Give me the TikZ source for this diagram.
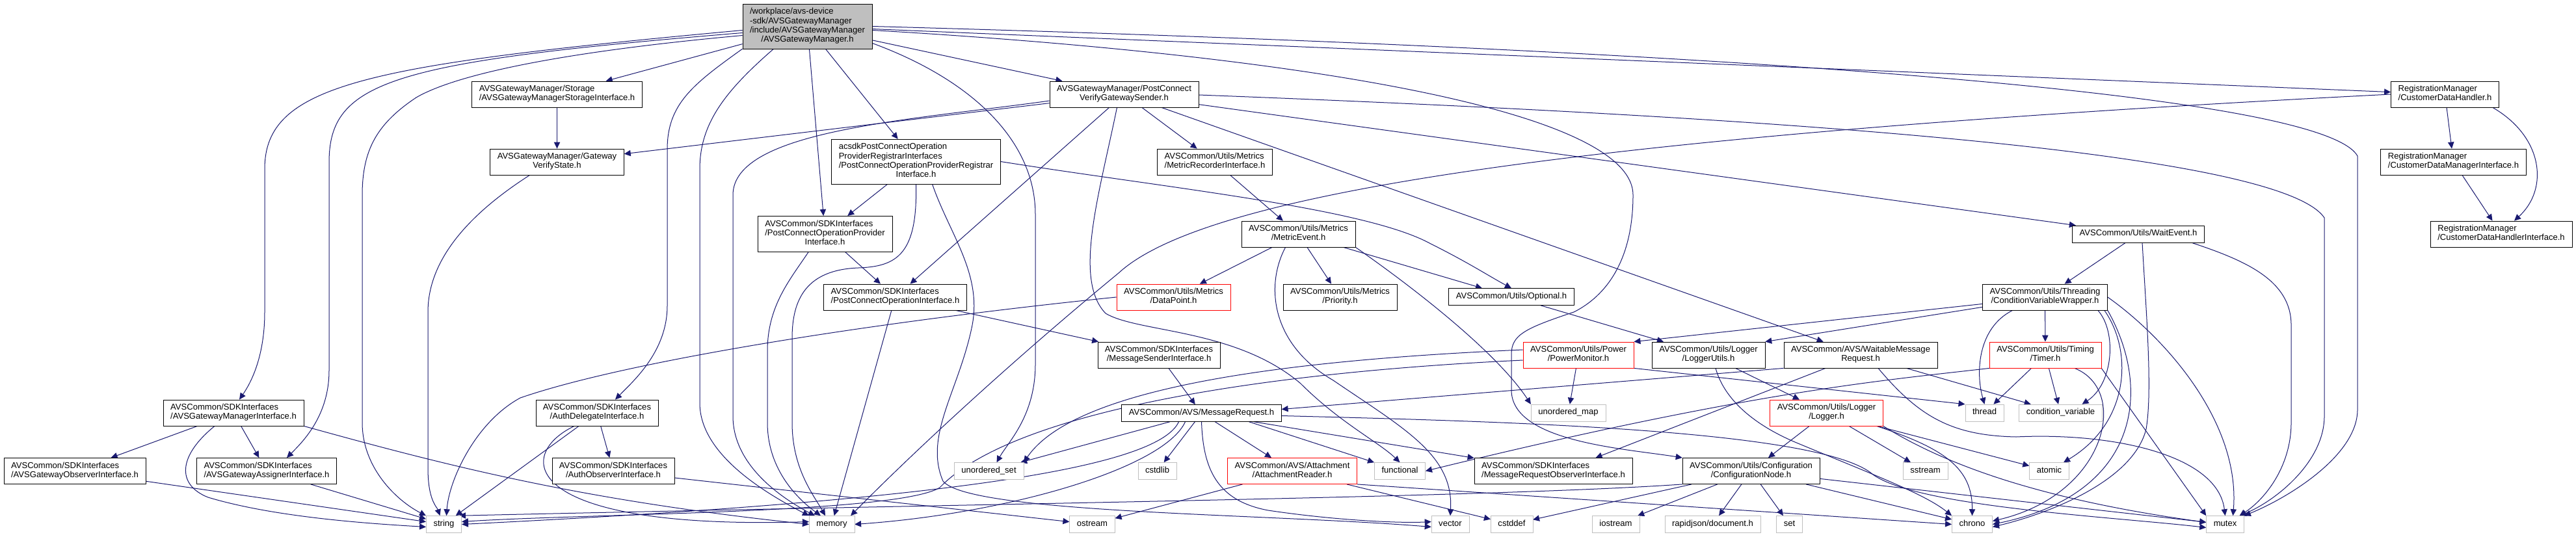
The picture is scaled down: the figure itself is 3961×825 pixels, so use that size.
\documentclass[tikz,border=0pt]{standalone}
\usepackage{fontspec}
\setmainfont{Liberation Sans}
\usetikzlibrary{arrows.meta,calc,backgrounds}
\definecolor{edgeblue}{HTML}{191970}
\definecolor{sysgray}{HTML}{BFBFBF}
% label: all lines left-aligned except the last one, which is centred
\newcommand\twoline[2]{\begin{tabular}{@{}l@{}}#1\\\multicolumn{1}{@{}c@{}}{#2}\end{tabular}}

\begin{document}
\begin{tikzpicture}[x=0.75pt, y=-0.75pt,
  every node/.style={font=\fontsize{9.8}{10.7}\selectfont},
  hdr/.style={draw=black, fill=white, inner xsep=8.4pt, inner ysep=4.4pt},
  trunc/.style={hdr, draw=red},
  top/.style={hdr, fill=sysgray},
  one/.style={text height=7.49pt, text depth=3.21pt},
  sys/.style={hdr, one, draw=sysgray},
  arr/.style={-{Triangle[length=7.5pt,width=7pt]}, line width=0.75pt, color=edgeblue},
]
% ---- row 1: the header itself ----
\node[top] (root) at (1241.5,40.5) {\twoline{/workplace/avs-device\\-sdk/AVSGatewayManager\\/include/AVSGatewayManager}{/AVSGatewayManager.h}};
% ---- row 2 ----
\node[hdr] (store) at (856.5,145) {\twoline{AVSGatewayManager/Storage}{/AVSGatewayManagerStorageInterface.h}};
\node[hdr] (sender) at (1728.5,145) {\twoline{AVSGatewayManager/PostConnect}{VerifyGatewaySender.h}};
\node[hdr] (custhandler) at (3759.5,145) {\twoline{RegistrationManager}{/CustomerDataHandler.h}};
% ---- row 3 ----
\node[hdr] (gwstate) at (856.5,249) {\twoline{AVSGatewayManager/Gateway}{VerifyState.h}};
\node[hdr] (registrar) at (1408.5,248.5) {\twoline{acsdkPostConnectOperation\\ProviderRegistrarInterfaces\\/PostConnectOperationProviderRegistrar}{Interface.h}};
\node[hdr] (metricrec) at (1868,249) {\twoline{AVSCommon/Utils/Metrics}{/MetricRecorderInterface.h}};
\node[hdr] (custmgr) at (3772.5,249) {\twoline{RegistrationManager}{/CustomerDataManagerInterface.h}};
% ---- row 4 ----
\node[hdr] (provider) at (1268.5,359.5) {\twoline{AVSCommon/SDKInterfaces\\/PostConnectOperationProvider}{Interface.h}};
\node[hdr] (metricevent) at (1996.5,360) {\twoline{AVSCommon/Utils/Metrics}{/MetricEvent.h}};
\node[hdr, one] (waitevent) at (3288,360) {AVSCommon/Utils/WaitEvent.h};
\node[hdr] (custhandlerif) at (3846,360) {\twoline{RegistrationManager}{/CustomerDataHandlerInterface.h}};
% ---- row 5 ----
\node[hdr] (postop) at (1376.5,457) {\twoline{AVSCommon/SDKInterfaces}{/PostConnectOperationInterface.h}};
\node[trunc] (datapoint) at (1804.5,457) {\twoline{AVSCommon/Utils/Metrics}{/DataPoint.h}};
\node[hdr] (priority) at (2060.5,457) {\twoline{AVSCommon/Utils/Metrics}{/Priority.h}};
\node[hdr, one] (optional) at (2324,456.5) {AVSCommon/Utils/Optional.h};
\node[hdr] (cvwrap) at (3144.5,457) {\twoline{AVSCommon/Utils/Threading}{/ConditionVariableWrapper.h}};
% ---- row 6 ----
\node[hdr] (msgsender) at (1782,546) {\twoline{AVSCommon/SDKInterfaces}{/MessageSenderInterface.h}};
\node[trunc] (powermon) at (2427,546) {\twoline{AVSCommon/Utils/Power}{/PowerMonitor.h}};
\node[hdr] (logutils) at (2627,546) {\twoline{AVSCommon/Utils/Logger}{/LoggerUtils.h}};
\node[hdr] (waitreq) at (2861,546) {\twoline{AVSCommon/AVS/WaitableMessage}{Request.h}};
\node[trunc] (timer) at (3145,546) {\twoline{AVSCommon/Utils/Timing}{/Timer.h}};
% ---- row 7 ----
\node[hdr] (gwmgrif) at (359,635) {\twoline{AVSCommon/SDKInterfaces}{/AVSGatewayManagerInterface.h}};
\node[hdr] (authdel) at (918,635) {\twoline{AVSCommon/SDKInterfaces}{/AuthDelegateInterface.h}};
\node[hdr, one] (msgreq) at (1847.5,635.5) {AVSCommon/AVS/MessageRequest.h};
\node[sys] (umap) at (2411.5,635) {unordered\_map};
\node[trunc] (logger) at (2808.5,635) {\twoline{AVSCommon/Utils/Logger}{/Logger.h}};
\node[sys] (thread) at (3051.5,635) {thread};
\node[sys] (condvar) at (3168.5,635) {condition\_variable};
% ---- row 8 ----
\node[hdr] (gwobs) at (115,724.5) {\twoline{AVSCommon/SDKInterfaces}{/AVSGatewayObserverInterface.h}};
\node[hdr] (gwassign) at (410,724.5) {\twoline{AVSCommon/SDKInterfaces}{/AVSGatewayAssignerInterface.h}};
\node[hdr] (authobs) at (943,724.5) {\twoline{AVSCommon/SDKInterfaces}{/AuthObserverInterface.h}};
\node[sys] (uset) at (1520.5,724.5) {unordered\_set};
\node[sys] (cstdlib) at (1779.5,724.5) {cstdlib};
\node[trunc] (attach) at (1987,724.5) {\twoline{AVSCommon/AVS/Attachment}{/AttachmentReader.h}};
\node[sys] (functional) at (2152.5,724.5) {functional};
\node[hdr] (reqobs) at (2388.5,724.5) {\twoline{AVSCommon/SDKInterfaces}{/MessageRequestObserverInterface.h}};
\node[hdr] (confnode) at (2692.5,724.5) {\twoline{AVSCommon/Utils/Configuration}{/ConfigurationNode.h}};
\node[sys] (sstream) at (2960.5,724.5) {sstream};
\node[sys] (atomic) at (3151,724.5) {atomic};
% ---- row 9: system headers ----
\node[sys] (str) at (682.5,806.5) {string};
\node[sys] (mem) at (1279,806.5) {memory};
\node[sys] (ostream) at (1679.5,806.5) {ostream};
\node[sys] (vector) at (2230,806.5) {vector};
\node[sys] (cstddef) at (2324.5,806.5) {cstddef};
\node[sys] (iostream) at (2484.5,806.5) {iostream};
\node[sys] (rapidjson) at (2633.5,806.5) {rapidjson/document.h};
\node[sys] (set) at (2751.5,806.5) {set};
\node[sys] (chrono) at (3032.5,806.5) {chrono};
\node[sys] (mutex) at (3421.5,806.5) {mutex};

\begin{scope}[on background layer]
\path[use as bounding box, fill=white] (0,0) rectangle (3961,825);
% ---- includes of the main header ----
\draw[arr] (root) -- (store);
\draw[arr] (root) -- (sender);
\draw[arr] (root) -- (registrar);
\draw[arr] (root) -- (provider);
\draw[arr] (root) -- (custhandler);
\draw[arr] ($(root.west)+(0,6)$) .. controls (560,100) and (407,130) .. (407,260) -- (407,480) .. controls (407,550) and (385,590) .. ($(gwmgrif.north)+(9,0)$);
\draw[arr] ($(root.west)+(0,10)$) .. controls (600,95) and (506,125) .. (506,250) -- (506,570) .. controls (506,640) and (465,680) .. ($(gwassign.north)+(31,0)$);
\draw[arr] ($(root.west)+(0,14)$) .. controls (860,80) and (700,115) .. (640,150) .. controls (580,190) and (557,230) .. (557,300) -- (557,650) .. controls (557,720) and (610,770) .. (str.north west);
\draw[arr] (root.south west) .. controls (1065,130) and (1026,160) .. (1026,230) -- (1026,470) .. controls (1026,540) and (975,585) .. ($(authdel.north)+(28,0)$);
\draw[arr] ($(root.south west)+(48,0)$) .. controls (1115,140) and (1076,190) .. (1076,260) -- (1076,620) .. controls (1076,700) and (1180,760) .. (mem.north west);
\draw[arr] ($(root.east)+(0,26)$) .. controls (1500,125) and (1592,220) .. (1592,330) -- (1592,560) .. controls (1592,640) and (1550,680) .. ($(uset.north)+(12,0)$);
\draw[arr] ($(root.east)+(0,6)$) .. controls (2000,85) and (2511,170) .. (2511,300) .. controls (2511,400) and (2470,455) .. (2420,480) .. controls (2345,505) and (2324,515) .. (2324,545) -- (2324,600) .. controls (2324,680) and (2500,690) .. (confnode.north west);
\draw[arr] (root.east) .. controls (2600,75) and (3570,140) .. (3625,240) -- (3625,630) .. controls (3625,700) and (3520,765) .. (mutex.north east);
% ---- storage and gateway state ----
\draw[arr] (store) -- (gwstate);
\draw[arr] ($(gwstate.south)+(-42,0)$) .. controls (720,330) and (658,400) .. (658,480) -- (658,720) .. controls (658,770) and (672,780) .. ($(str.north)+(-6,0)$);
% ---- verify gateway sender ----
\draw[arr] (sender) -- (gwstate);
\draw[arr] ($(sender.west)+(0,10)$) .. controls (1400,185) and (1127,200) .. (1127,300) -- (1127,640) .. controls (1127,715) and (1200,765) .. ($(mem.north west)+(9,0)$);
\draw[arr] (sender) -- (postop);
\draw[arr] ($(sender.south)+(-11,0)$) .. controls (1690,300) and (1650,430) .. (1700,482) .. controls (1750,512) and (1900,505) .. (2000,590) .. controls (2060,650) and (2120,680) .. (functional.north);
\draw[arr] (sender) -- (metricrec);
\draw[arr] (sender) -- (waitreq);
\draw[arr] (sender) -- (waitevent);
\draw[arr] ($(sender.east)+(0,1)$) .. controls (2600,175) and (3500,225) .. (3574,335) -- (3574,640) .. controls (3574,710) and (3500,770) .. ($(mutex.north east)+(-7,0)$);
% ---- provider registrar ----
\draw[arr] (registrar) -- (provider);
\draw[arr] (registrar.south) .. controls (1411,390) and (1380,410) .. (1320,412) .. controls (1240,415) and (1218,460) .. (1218,520) -- (1218,650) .. controls (1218,720) and (1250,760) .. ($(mem.north)+(-10,0)$);
\draw[arr] (registrar.east) .. controls (1800,290) and (2100,320) .. (2200,375) .. controls (2260,405) and (2290,425) .. (optional.north);
\draw[arr] ($(registrar.south)+(25,0)$) .. controls (1460,360) and (1510,420) .. (1495,500) .. controls (1475,600) and (1420,670) .. (1450,740) .. controls (1490,790) and (1950,790) .. ($(vector.west)+(0,4)$);
% ---- provider and operation ----
\draw[arr] (provider) -- (postop);
\draw[arr] ($(provider.south)+(-25,0)$) .. controls (1215,430) and (1180,470) .. (1180,540) -- (1180,650) .. controls (1180,725) and (1230,770) .. ($(mem.north west)+(18,0)$);
\draw[arr] (postop) -- (msgsender);
\draw[arr] (postop) -- (mem);
% ---- message sender and request ----
\draw[arr] (msgsender) -- (msgreq);
\draw[arr] (msgreq) -- (uset);
\draw[arr] ($(msgreq.south)+(-35,0)$) .. controls (1780,720) and (1450,770) .. (str.east);
\draw[arr] ($(msgreq.south)+(-25,0)$) .. controls (1790,720) and (1550,790) .. (mem.east);
\draw[arr] (msgreq) -- (cstdlib);
\draw[arr] (msgreq) -- (attach);
\draw[arr] (msgreq) -- (reqobs);
\draw[arr] ($(msgreq.south east)+(-50,0)$) -- (functional.north west);
\draw[arr] (msgreq.south) .. controls (1850,720) and (1870,770) .. (1950,785) .. controls (2050,800) and (2150,805) .. ($(vector.west)+(0,-4)$);
\draw[arr] ($(msgreq.east)+(0,4)$) .. controls (2300,648) and (2800,660) .. (2880,730) .. controls (2950,780) and (3250,795) .. ($(mutex.west)+(0,5)$);
% ---- attachment reader ----
\draw[arr] (attach) -- (ostream);
\draw[arr] (attach) -- (cstddef);
\draw[arr] (attach.south east) -- (chrono.west);
% ---- metrics ----
\draw[arr] (metricrec) -- (metricevent);
\draw[arr] (metricevent) -- (datapoint);
\draw[arr] (metricevent) -- (priority);
\draw[arr] (metricevent) -- (optional);
\draw[arr] (metricevent.south east) .. controls (2170,440) and (2300,540) .. (umap.north west);
\draw[arr] ($(metricevent.south)+(-20,0)$) .. controls (1945,440) and (1955,530) .. (2050,585) .. controls (2160,660) and (2235,700) .. (vector.north);
\draw[arr] (datapoint.west) .. controls (1300,500) and (950,560) .. (800,612) .. controls (730,650) and (690,740) .. ($(str.north)+(4,0)$);
\draw[arr] (optional) -- (logutils);
% ---- power monitor ----
\draw[arr] (powermon) -- (umap);
\draw[arr] ($(powermon.west)+(0,-8)$) .. controls (1950,555) and (1650,600) .. (uset.north east);
\draw[arr] ($(powermon.west)+(0,8)$) .. controls (1900,575) and (1550,640) .. (1445,750) .. controls (1380,790) and (900,790) .. ($(str.east)+(0,-4)$);
\draw[arr] (powermon.south east) -- (thread.north west);
% ---- logger utils and logger ----
\draw[arr] (logutils) -- (logger);
\draw[arr] ($(logutils.south)+(11,0)$) .. controls (2650,610) and (2690,650) .. (2760,680) .. controls (2880,730) and (2960,760) .. (chrono.north west);
\draw[arr] (logger) -- (confnode);
\draw[arr] (logger) -- (sstream);
\draw[arr] (logger) -- (atomic);
\draw[arr] ($(logger.south east)+(-10,0)$) .. controls (2990,690) and (3033,720) .. (chrono.north);
\draw[arr] (logger.south east) .. controls (3000,720) and (3150,770) .. ($(mutex.west)+(0,-3)$);
% ---- waitable message request ----
\draw[arr] (waitreq.south west) -- ($(msgreq.east)+(0,-6)$);
\draw[arr] ($(waitreq.south)+(-54,0)$) -- ($(reqobs.north)+(65,0)$);
\draw[arr] (waitreq) -- (condvar);
\draw[arr] ($(waitreq.south)+(27,0)$) .. controls (2950,640) and (3000,670) .. (3100,672) .. controls (3250,665) and (3410,700) .. (mutex.north);
% ---- condition variable wrapper ----
\draw[arr] (cvwrap) -- (powermon.north east);
\draw[arr] (cvwrap) -- (logutils.north east);
\draw[arr] (cvwrap) -- (timer);
\draw[arr] ($(cvwrap.south)+(-50,0)$) .. controls (3040,505) and (3038,575) .. (thread.north);
\draw[arr] ($(cvwrap.south east)+(-15,0)$) .. controls (3255,510) and (3250,590) .. ($(condvar.north)+(33,0)$);
\draw[arr] ($(cvwrap.south east)+(-5,0)$) .. controls (3280,540) and (3275,650) .. ($(atomic.north)+(22,0)$);
\draw[arr] (cvwrap.south east) .. controls (3310,600) and (3290,760) .. (chrono.east);
\draw[arr] (cvwrap.east) .. controls (3330,520) and (3445,650) .. ($(mutex.north)+(12,0)$);
% ---- timer ----
\draw[arr] (timer) -- (thread);
\draw[arr] (timer) -- (condvar);
\draw[arr] ($(timer.south)+(45,0)$) .. controls (3275,600) and (3240,760) .. ($(chrono.east)+(0,-5)$);
\draw[arr] (timer.south east) -- (mutex.north west);
\draw[arr] (timer.south west) .. controls (2900,585) and (2700,600) .. (functional.east);
% ---- wait event ----
\draw[arr] (waitevent) -- (cvwrap);
\draw[arr] ($(waitevent.south east)+(-20,0)$) .. controls (3450,400) and (3523,430) .. (3523,500) -- (3523,650) .. controls (3523,720) and (3480,770) .. ($(mutex.north)+(22,0)$);
\draw[arr] ($(waitevent.south)+(6,0)$) .. controls (3300,480) and (3310,600) .. (3300,660) .. controls (3280,740) and (3150,790) .. ($(chrono.east)+(0,4)$);
% ---- configuration node ----
\draw[arr] (confnode) -- (rapidjson);
\draw[arr] (confnode) -- (set);
\draw[arr] (confnode) -- (iostream);
\draw[arr] (confnode) -- (cstddef);
\draw[arr] (confnode) -- (chrono);
\draw[arr] (confnode) -- (mutex);
\draw[arr] (confnode.south west) .. controls (2300,765) and (1500,775) .. ($(str.north east)+(-4,0)$);
% ---- SDK interfaces on the left ----
\draw[arr] (gwmgrif) -- (gwobs);
\draw[arr] (gwmgrif) -- (gwassign);
\draw[arr] ($(gwmgrif.south)+(-29,0)$) .. controls (275,700) and (270,745) .. (320,765) .. controls (420,795) and (560,805) .. ($(str.west)+(0,4)$);
\draw[arr] (gwmgrif.south east) .. controls (700,720) and (900,770) .. (mem.west);
\draw[arr] (gwobs) -- (str);
\draw[arr] (gwassign) -- (str);
\draw[arr] (authdel) -- (authobs);
\draw[arr] (authdel) -- (str);
\draw[arr] ($(authdel.south)+(-35,0)$) .. controls (790,700) and (800,815) .. ($(mem.west)+(0,-4)$);
\draw[arr] (authobs) -- (ostream);
% ---- customer data handler ----
\draw[arr] (custhandler) -- (custmgr);
\draw[arr] ($(custhandler.south east)+(-10,0)$) .. controls (3910,210) and (3920,290) .. ($(custhandlerif.north)+(20,0)$);
\draw[arr] (custmgr) -- (custhandlerif);
\draw[arr] (custhandler.west) .. controls (2400,210) and (1850,300) .. (1720,420) .. controls (1550,560) and (1400,700) .. ($(mem.north east)+(-6,0)$);
\end{scope}
\end{tikzpicture}
\end{document}
